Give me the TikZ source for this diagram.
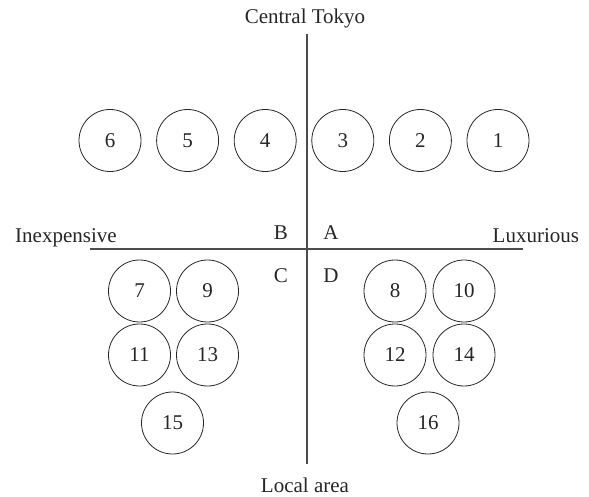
\documentclass[tikz,border=0pt]{standalone}
\usepackage{fontspec}
\setmainfont{Liberation Serif}
\begin{document}
\begin{tikzpicture}[x=1pt, y=-1pt,
  every node/.style={font=\fontsize{21}{25}\selectfont, text=black!85},
  store/.style={circle, draw=black!85, line width=0.8pt, minimum size=62pt, inner sep=0pt},
  axis/.style={draw=black!70, line width=1.1pt},
  lbl/.style={anchor=base, inner sep=0pt}]
\useasboundingbox (0,0) rectangle (589,497);

% axes
\coordinate (top) at (307,34);
\coordinate (bottom) at (307,464);
\coordinate (left) at (90,249);
\coordinate (right) at (523,249);
\draw[axis] (top) -- (bottom);
\draw[axis] (left) -- (right);

% axis captions
\node[lbl] (central) at (305,24) {Central Tokyo};
\node[lbl] (local) at (305,492) {Local area};
\node[lbl, anchor=base west] (cheap) at (15,243) {Inexpensive};
\node[lbl, anchor=base west] (lux) at (492.5,243) {Luxurious};

% quadrant letters
\node[lbl] (qB) at (281,240) {B};
\node[lbl] (qA) at (331,240) {A};
\node[lbl] (qC) at (281,282) {C};
\node[lbl] (qD) at (331,282) {D};

% upper row
\node[store] (s6) at (110,140.5) {6};
\node[store] (s5) at (187.6,140.5) {5};
\node[store] (s4) at (265.2,140.5) {4};
\node[store] (s3) at (342.8,140.5) {3};
\node[store] (s2) at (420.4,140.5) {2};
\node[store] (s1) at (498,140.5) {1};

% lower left group
\node[store] (s7) at (139.5,291) {7};
\node[store] (s9) at (207.5,291) {9};
\node[store] (s11) at (139.5,355) {11};
\node[store] (s13) at (207.5,355) {13};
\node[store] (s15) at (172.5,423) {15};

% lower right group
\node[store] (s8) at (395,291) {8};
\node[store] (s10) at (464,291) {10};
\node[store] (s12) at (395,355) {12};
\node[store] (s14) at (464,355) {14};
\node[store] (s16) at (428,423) {16};
\end{tikzpicture}
\end{document}
